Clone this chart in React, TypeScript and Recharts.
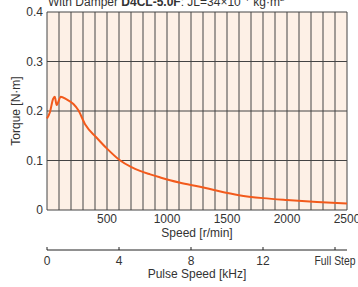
import { LineChart, Line, XAxis, YAxis, CartesianGrid } from 'recharts';

const speeds = [0, 25, 50, 65, 80, 115, 160, 220, 260, 320, 410, 500, 610, 700, 775, 860, 940, 1025, 1110, 1275, 1400, 1600, 1800, 2000, 2250, 2500];
const torques = [0.185, 0.198, 0.224, 0.229, 0.212, 0.229, 0.224, 0.214, 0.202, 0.172, 0.147, 0.124, 0.1, 0.087, 0.079, 0.072, 0.066, 0.06, 0.055, 0.047, 0.04, 0.03, 0.024, 0.02, 0.016, 0.013];

const speedTicks = [0, 100, 200, 300, 400, 500, 600, 700, 800, 900, 1000, 1100, 1200, 1300, 1400, 1500, 1600, 1700, 1800, 1900, 2000, 2100, 2200, 2300, 2400, 2500];
const torqueTicks = [0, 0.1, 0.2, 0.3, 0.4];
const pulseTicks = [0, 4, 8, 12, 16];
const pulseLabels = ['0', '4', '8', '12', 'Full Step'];
// 1 kHz pulse speed = 150 r/min
const rpmPerKHz = 150;

const data = speeds.map((s, i) => ({ speed: s, torque: torques[i] }));

const font = '"Liberation Sans", Arial, sans-serif';
const textColor = '#333';
const fs = 12;

const SpeedTick = (props: any) => {
  const { x, y, payload } = props;
  if (payload.value === 0 || payload.value % 500 !== 0) return <g />;
  return (
    <text x={x} y={y + 13} textAnchor="middle" fill={textColor} fontSize={fs} fontFamily={font}>
      {payload.value}
    </text>
  );
};

const PulseTick = (props: any) => {
  const { x, y, payload } = props;
  const idx = pulseTicks.indexOf(payload.value / rpmPerKHz);
  const label = pulseLabels[idx];
  const squeeze = label.length > 3 ? { textLength: 41, lengthAdjust: 'spacingAndGlyphs' } : {};
  return (
    <g>
      <line x1={x} x2={x} y1={y - 3} y2={y} stroke="#222" strokeWidth={1} />
      <text x={x} y={y + 15} textAnchor="middle" fill={textColor} fontSize={fs} fontFamily={font} {...squeeze}>
        {label}
      </text>
    </g>
  );
};

const TorqueTick = (props: any) => {
  const { x, y, payload } = props;
  return (
    <text x={x - 4} y={y + 4} textAnchor="end" fill={textColor} fontSize={fs} fontFamily={font}>
      {payload.value}
    </text>
  );
};

const App = () => {
  return (
    <div style={{ position: 'absolute', left: 0, top: 0, width: 358, height: 287 }}>
      <svg width={358} height={20} style={{ position: 'absolute', left: 0, top: 0 }}>
        <text x={48} y={6} fill={textColor} fontSize={fs} fontFamily={font}>
          With Damper <tspan fontWeight="bold">D4CL-5.0F</tspan>: JL=34×10
          <tspan fontSize={8} dy={-5}>−7</tspan>
          <tspan dy={5}> kg·m</tspan>
          <tspan fontSize={8} dy={-5}>2</tspan>
        </text>
      </svg>
      <LineChart width={358} height={287} data={data} margin={{ top: 12, right: 11, left: 0, bottom: 0 }}>
        <CartesianGrid fill="#FDF0E6" stroke="#444" strokeWidth={1} />
        <XAxis
          dataKey="speed"
          type="number"
          domain={[0, 2500]}
          ticks={speedTicks}
          interval={0}
          height={40}
          tickSize={0}
          tickMargin={0}
          axisLine={false}
          tickLine={false}
          tick={<SpeedTick />}
          label={{ value: 'Speed [r/min]', position: 'insideBottom', offset: 13, fill: textColor, fontSize: fs, fontFamily: font }}
        />
        <XAxis
          xAxisId="pulse"
          dataKey="speed"
          type="number"
          domain={[0, 2500]}
          allowDataOverflow
          ticks={pulseTicks.map((k) => k * rpmPerKHz)}
          interval={0}
          height={37}
          tickSize={0}
          tickMargin={0}
          axisLine={{ stroke: '#222' }}
          tickLine={false}
          tick={<PulseTick />}
          label={{ value: 'Pulse Speed [kHz]', position: 'insideBottom', offset: 9, fill: textColor, fontSize: fs, fontFamily: font }}
        />
        <YAxis
          type="number"
          domain={[0, 0.4]}
          ticks={torqueTicks}
          interval={0}
          width={47}
          tickSize={0}
          tickMargin={0}
          axisLine={false}
          tickLine={false}
          tick={<TorqueTick />}
          label={{
            content: (p: any) => {
              const vb = p.viewBox;
              const cx = vb.x + 16;
              const cy = vb.y + vb.height / 2;
              return (
                <text x={cx} y={cy} transform={`rotate(-90 ${cx} ${cy})`} textAnchor="middle" dominantBaseline="central" fill={textColor} fontSize={fs} fontFamily={font}>
                  Torque [N·m]
                </text>
              );
            },
          }}
        />
        <Line
          type="monotone"
          dataKey="torque"
          stroke="#F25A1C"
          strokeWidth={2}
          dot={false}
          isAnimationActive={false}
        />
      </LineChart>
    </div>
  );
};

export default App;
